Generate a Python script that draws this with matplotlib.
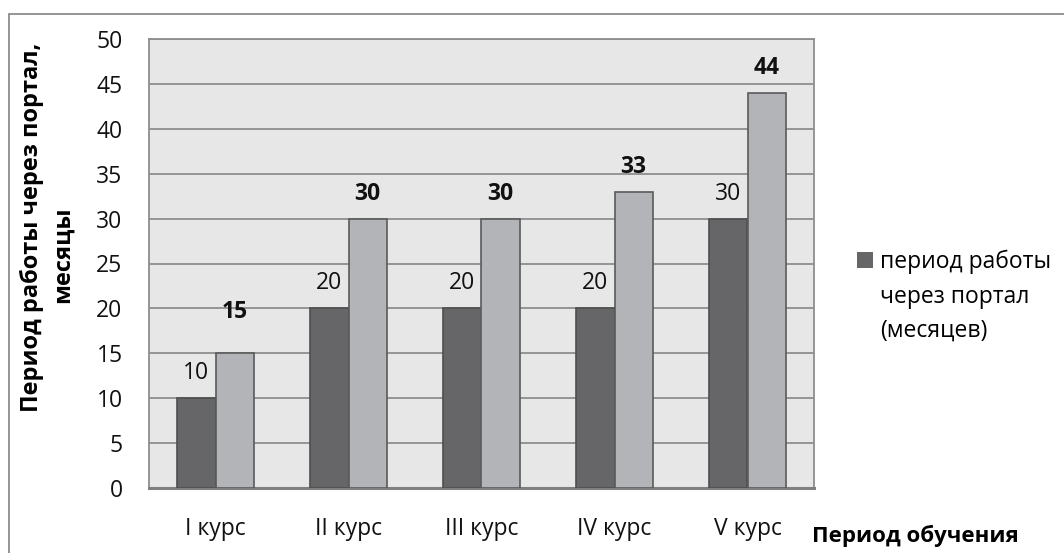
import matplotlib
matplotlib.use("Agg")
import matplotlib.pyplot as plt
import numpy as np
from matplotlib.patches import Rectangle

# course groups and the two month series
courses = ['I курс', 'II курс', 'III курс', 'IV курс', 'V курс']
portal_months = [10, 20, 20, 20, 30]
study_months = [15, 30, 30, 33, 44]
y_ticks = list(range(0, 51, 5))

legend_lines = ['период работы', 'через портал', '(месяцев)']
y_title = ['Период работы через портал,', 'месяцы']
x_title = 'Период обучения'

plt.rcParams['font.family'] = ['Open Sans', 'DejaVu Sans']
FS = 16.5

W, H = 1064, 553
fig = plt.figure(figsize=(W / 100, H / 100), dpi=100)

def fx(px):
    return px / W

def fy(py):
    return 1 - py / H

# gray frame round the whole chart
fig.patches.append(Rectangle((fx(9), -0.2), 1.2, fy(14) + 0.2,
                             transform=fig.transFigure, fill=False,
                             edgecolor='#8c8c8c', lw=1.3))

ax = fig.add_axes([fx(149), fy(488), 665 / W, 449 / H])
ax.set_facecolor('#e7e7e8')

x = np.arange(len(courses))
w = 0.286
dark = ax.bar(x - w / 2, portal_months, w, color='#666668', edgecolor='#4e4e4e',
              lw=1.2, zorder=3, label=legend_lines[0])
light = ax.bar(x + w / 2, study_months, w, color='#b3b4b7', edgecolor='#5a5a5a',
               lw=1.2, zorder=3)

# value labels: plain for the dark series, bold for the light one
for xi, v in zip(x - w / 2, portal_months):
    ax.annotate(str(v), (xi, v), xytext=(0, 13), textcoords='offset pixels',
                ha='center', va='bottom', fontsize=FS, color='#111111')
for xi, v in zip(x + w / 2, study_months):
    off = 29 if v == 15 else 13
    ax.annotate(str(v), (xi, v), xytext=(0, off), textcoords='offset pixels',
                ha='center', va='bottom', fontsize=FS, fontweight='bold', color='#111111')

ax.set_xlim(-0.5, len(courses) - 0.5)
ax.set_ylim(0, 50)
ax.set_yticks(y_ticks)
ax.set_xticks(x)
ax.set_xticklabels(courses)
ax.tick_params(axis='both', length=0, labelsize=FS, colors='#111111')
ax.tick_params(axis='y', pad=19)
ax.tick_params(axis='x', pad=21)
ax.yaxis.grid(True, color='#8e8e8e', lw=1.3, zorder=1)
ax.set_axisbelow(True)
for name, s in ax.spines.items():
    s.set_color('#8e8e8e')
    s.set_linewidth(1.3)
ax.spines['bottom'].set_color('#7f7f7f')
ax.spines['bottom'].set_linewidth(2.2)

# axis titles
fig.text(fx(32), fy(227), y_title[0], rotation=90, ha='center', va='center',
         fontsize=17, fontweight='bold')
fig.text(fx(63), fy(255), y_title[1], rotation=90, ha='center', va='center',
         fontsize=17, fontweight='bold')
fig.text(fx(812), fy(542), x_title, ha='left', va='baseline',
         fontsize=16, fontweight='bold')

# legend shows only the dark series; its label wraps onto two more lines
leg = fig.legend(handles=[dark], loc='upper left', bbox_to_anchor=(fx(857), fy(250)),
                 frameon=False, fontsize=FS, handlelength=0.7, handleheight=0.7,
                 handletextpad=0.3, borderaxespad=0, borderpad=0)
leg.legend_handles[0].set_edgecolor('none')
fig.canvas.draw()
text_x0 = leg.get_texts()[0].get_window_extent().x0
for i, line in enumerate(legend_lines[1:]):
    fig.text(text_x0 / W, fy(303 + 34 * i), line, ha='left', va='baseline', fontsize=FS)

fig.savefig('out.png', dpi=100)
